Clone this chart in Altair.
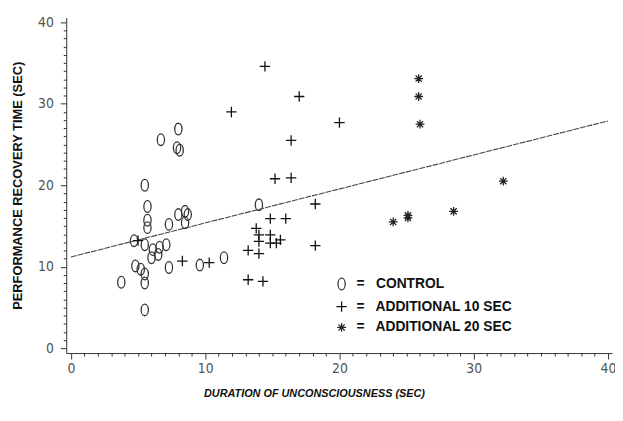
import altair as alt
import pandas as pd

# ---- data ----
control_x = [8.0, 6.7, 7.9, 8.1, 5.5, 5.7, 5.7, 5.7, 7.3, 8.0, 8.5, 8.7, 8.5,
             4.7, 5.5, 6.1, 6.6, 7.1, 6.5, 6.0, 4.8, 5.2, 5.5, 5.5, 7.3, 9.6,
             3.75, 5.5, 11.4, 14.0]
control_y = [26.9, 25.6, 24.6, 24.3, 20.0, 17.4, 15.7, 14.8, 15.2, 16.4, 16.8, 16.4, 15.4,
             13.2, 12.7, 12.1, 12.4, 12.7, 11.5, 11.1, 10.1, 9.7, 9.1, 8.0, 9.9, 10.2,
             8.1, 4.7, 11.1, 17.6]

add10_x = [14.45, 17.0, 11.95, 20.0, 16.4, 15.2, 16.4, 18.2, 14.85, 16.0, 13.8, 14.0,
           14.0, 14.85, 14.85, 15.3, 15.6, 13.2, 14.0, 18.2, 13.2, 14.3, 10.3, 8.3, 5.0]
add10_y = [34.6, 30.9, 29.0, 27.7, 25.5, 20.8, 20.9, 17.7, 15.9, 15.9, 14.7, 13.9,
           13.1, 13.9, 12.9, 12.9, 13.3, 12.0, 11.6, 12.6, 8.4, 8.2, 10.5, 10.7, 13.2]

add20_x = [25.9, 25.9, 26.0, 32.2, 28.5, 25.1, 25.1, 24.0]
add20_y = [33.1, 30.9, 27.5, 20.5, 16.8, 16.0, 16.3, 15.5]

fit_x = [0, 40]
fit_y = [11.2, 27.9]

tick_values = list(range(0, 41))

groups = ["CONTROL", "ADDITIONAL 10 SEC", "ADDITIONAL 20 SEC"]

rows = []
for gx, gy, g in [(control_x, control_y, groups[0]),
                  (add10_x, add10_y, groups[1]),
                  (add20_x, add20_y, groups[2])]:
    for a, b in zip(gx, gy):
        rows.append({"dur": a, "rec": b, "group": g})
pts = pd.DataFrame(rows)
fit = pd.DataFrame({"dur": fit_x, "rec": fit_y})

ellipse = "M0,-1A0.62,1,0,1,1,0,1A0.62,1,0,1,1,0,-1Z"
plus = "M-1,0L1,0M0,-1L0,1"
star = "M-1,0L1,0M0,-1L0,1M-0.7,-0.7L0.7,0.7M-0.7,0.7L0.7,-0.7"

tick_font = "Liberation Sans Narrow, DejaVu Sans Condensed, sans-serif"

x_scale = alt.Scale(domain=[-0.35, 40.3], nice=False, zero=False)
y_scale = alt.Scale(domain=[-0.6, 40.6], nice=False, zero=False)

common_axis = dict(
    values=tick_values,
    labelExpr="datum.value % 10 === 0 ? datum.label : ''",
    tickSize={"condition": {"test": "datum.value % 10 === 0", "value": 6}, "value": 3},
    labelFlush=False, labelOverlap=False, grid=False,
    labelFont=tick_font, labelFontSize=14, labelColor="#555",
    domainColor="#333", tickColor="#333",
)
x_axis = alt.Axis(
    **common_axis, labelPadding=3,
    title="DURATION OF UNCONSCIOUSNESS (SEC)",
    titleFont="Liberation Sans", titleFontSize=11, titleFontStyle="italic",
    titleFontWeight="bold", titleColor="#111",
    titleX=251, titleY=41, titleAlign="center", titleBaseline="middle",
)
y_axis = alt.Axis(
    **common_axis, labelPadding=7,
    title="PERFORMANCE RECOVERY TIME (SEC)",
    titleFont="Liberation Sans", titleFontSize=13, titleFontWeight="bold",
    titleColor="#111", titleX=-49, titleY=170, titleAlign="center",
    titleBaseline="middle", titleAngle=270,
)

legend = alt.Legend(orient="none", legendX=272, legendY=263, title=None,
                    labelExpr="'=\u00a0\u00a0 ' + datum.label",
                    labelFont="Liberation Sans", labelFontSize=14,
                    labelFontWeight="bold", labelColor="#111",
                    rowPadding=6, labelOffset=8, symbolStrokeWidth=1.2)

points = alt.Chart(pts).mark_point(filled=False, strokeWidth=1.3, opacity=1).encode(
    x=alt.X("dur:Q", scale=x_scale, axis=x_axis),
    y=alt.Y("rec:Q", scale=y_scale, axis=y_axis),
    shape=alt.Shape("group:N", scale=alt.Scale(domain=groups, range=[ellipse, plus, star]),
                    legend=legend),
    size=alt.Size("group:N", scale=alt.Scale(domain=groups, range=[140, 80, 28]), legend=legend),
    stroke=alt.Stroke("group:N", scale=alt.Scale(domain=groups, range=["#333", "#111", "#222"]),
                      legend=legend),
)

line = alt.Chart(fit).mark_line(color="#444", strokeWidth=1.1, strokeDash=[6, 1]).encode(
    x=alt.X("dur:Q", scale=x_scale, axis=x_axis),
    y=alt.Y("rec:Q", scale=y_scale, axis=y_axis),
)

chart = alt.layer(line, points).properties(
    width=553, height=340,
    padding={"left": 59, "top": 7, "right": 3, "bottom": 50},
    autosize=alt.AutoSizeParams(type="none"),
    background="white",
).configure_view(stroke=None)

chart.save("out.html", embed_options={"renderer": "svg", "actions": False})
